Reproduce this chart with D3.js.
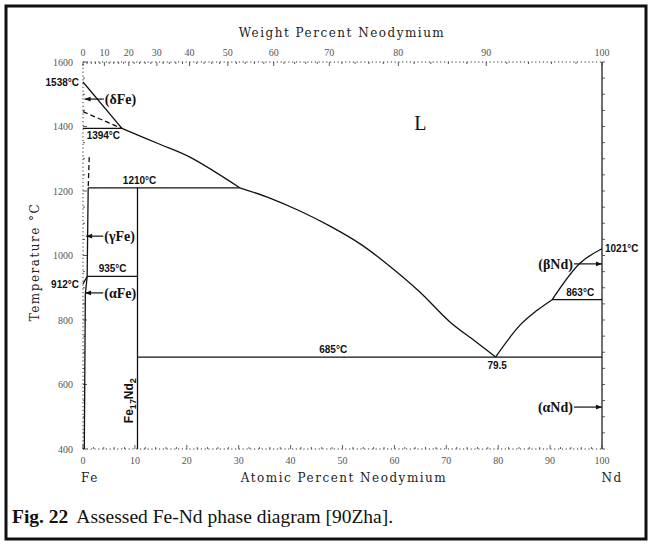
<!DOCTYPE html>
<html lang="en">
<head>
  <meta charset="UTF-8">
  <title>Fe-Nd phase diagram</title>
  <script src="https://cdn.jsdelivr.net/npm/d3@7"></script>
  <style>
    body { margin: 0; background: #fff; }
    svg { display: block; }
    .tick-label { font-family: "Liberation Serif", serif; font-size: 10px; fill: #555; }
    .axis-title { font-family: "DejaVu Serif", serif; font-size: 12px; fill: #222; letter-spacing: 1.5px; }
    .iso { font-family: "Liberation Sans", sans-serif; font-weight: bold; font-size: 10px; fill: #111; }
    .phase { font-family: "Liberation Serif", serif; font-weight: bold; font-size: 14px; fill: #111; }
    .line { fill: none; stroke: #111; stroke-width: 1.3; }
  </style>
</head>
<body>
<script>
  // atomic percent Nd / temperature in degC
  var atTicks = [0, 10, 20, 30, 40, 50, 60, 70, 80, 90, 100]
  var wtTicks = [0, 10, 20, 30, 40, 50, 60, 70, 80, 90, 100]
  var tTicks = [400, 600, 800, 1000, 1200, 1400, 1600]

  // phase boundaries
  var liqDelta = [[0, 1538], [7.5, 1394]]
  var liqGamma = [[7.5, 1394], [14.8, 1345], [20.6, 1305], [30.2, 1210]]
  var liqMain = [[30.2, 1210], [36.0, 1178], [41.8, 1138], [47.6, 1091], [53.4, 1036], [59.1, 967],
                 [64.9, 887], [70.7, 794], [75.5, 735], [79.5, 685]]
  var liqNdLow = [[79.5, 685], [84.2, 784], [87.5, 830], [90.4, 863]]
  var liqNdHigh = [[90.4, 863], [95.8, 977], [100, 1021]]
  var deltaSolidus = [[0, 1446], [7.5, 1394]]
  var gammaDashed = [[1.2, 1305], [1.0, 1210]]
  var feSolvus = [[1.0, 1210], [0.8, 935], [0.45, 880], [0.25, 400]]
  var alphaGamma = [[0, 912], [0.8, 935]]
  var compound = [[10.5, 400], [10.5, 1210]]
  var isotherms = [
    { t: 1394, x0: 0, x1: 7.5 },
    { t: 1210, x0: 1.0, x1: 30.2 },
    { t: 935, x0: 0.8, x1: 10.5 },
    { t: 685, x0: 10.5, x1: 100 },
    { t: 863, x0: 90.4, x1: 100 }
  ]
  var isoLabels = [
    { text: '1538°C', x: 0, t: 1538, dx: -4, dy: 4, anchor: 'end' },
    { text: '1394°C', x: 0.7, t: 1394, dx: 0, dy: 11, anchor: 'start' },
    { text: '1210°C', x: 10.9, t: 1210, dx: 0, dy: -4, anchor: 'middle' },
    { text: '935°C', x: 5.7, t: 935, dx: 0, dy: -4, anchor: 'middle' },
    { text: '912°C', x: 0, t: 912, dx: -4, dy: 4, anchor: 'end' },
    { text: '685°C', x: 48.2, t: 685, dx: 0, dy: -4, anchor: 'middle' },
    { text: '79.5', x: 79.8, t: 685, dx: 0, dy: 12, anchor: 'middle' },
    { text: '863°C', x: 95.8, t: 863, dx: 0, dy: -4, anchor: 'middle' },
    { text: '1021°C', x: 100, t: 1021, dx: 3, dy: 3, anchor: 'start' }
  ]
  // phase labels with arrows pointing at a boundary
  var phaseLabels = [
    { name: 'δFe', x: 4.2, t: 1485, to: 0.3, anchor: 'start' },
    { name: 'γFe', x: 4.1, t: 1060, to: 0.6, anchor: 'start' },
    { name: 'αFe', x: 4.1, t: 884, to: 0.4, anchor: 'start' },
    { name: 'βNd', x: 94.4, t: 974, to: 100, anchor: 'end' },
    { name: 'αNd', x: 94.4, t: 530, to: 100, anchor: 'end' }
  ]

  var W = 652, H = 546
  var x = d3.scaleLinear().domain([0, 100]).range([83, 602])
  var y = d3.scaleLinear().domain([400, 1600]).range([449, 62])

  // weight % Nd -> atomic % Nd
  function wtToAt(w) {
    var nd = w / 144.24, fe = (100 - w) / 55.845
    return nd + fe === 0 ? 0 : 100 * nd / (nd + fe)
  }

  var svg = d3.select('body').append('svg').attr('width', W).attr('height', H)

  svg.append('defs').append('marker')
    .attr('id', 'arr').attr('viewBox', '0 0 10 10').attr('refX', 10).attr('refY', 5)
    .attr('markerWidth', 6).attr('markerHeight', 5).attr('orient', 'auto-start-reverse')
    .append('path').attr('d', 'M0,1 L10,5 L0,9 z').attr('fill', '#111')

  // frame
  svg.append('rect').attr('x', 6).attr('y', 6).attr('width', 640).attr('height', 533)
    .attr('fill', 'none').attr('stroke', '#111').attr('stroke-width', 3)

  // axes lines
  var dotted = '1.2,2.6'
  svg.append('line').attr('x1', x(0)).attr('x2', x(100)).attr('y1', y(400)).attr('y2', y(400))
    .attr('stroke', '#333').attr('stroke-dasharray', dotted)
  svg.append('line').attr('x1', x(0)).attr('x2', x(100)).attr('y1', y(1600)).attr('y2', y(1600))
    .attr('stroke', '#333').attr('stroke-dasharray', dotted)
  svg.append('line').attr('x1', x(0)).attr('x2', x(0)).attr('y1', y(400)).attr('y2', y(1600))
    .attr('stroke', '#333').attr('stroke-dasharray', dotted)
  svg.append('line').attr('x1', x(100)).attr('x2', x(100)).attr('y1', y(400)).attr('y2', y(1600))
    .attr('stroke', '#111').attr('stroke-width', 1.2)

  // bottom ticks
  var g = svg.append('g')
  g.selectAll('.bmin').data(d3.range(0, 101, 2)).enter().append('line')
    .attr('x1', function (d) { return x(d) }).attr('x2', function (d) { return x(d) })
    .attr('y1', y(400)).attr('y2', function (d) { return y(400) - (d % 10 === 0 ? 4 : 2) })
    .attr('stroke', '#333').attr('stroke-width', 0.8)
  g.selectAll('.blab').data(atTicks).enter().append('text').attr('class', 'tick-label')
    .attr('x', function (d) { return x(d) }).attr('y', y(400) + 15)
    .attr('text-anchor', 'middle').text(function (d) { return d })

  // top ticks (weight percent)
  g.selectAll('.tmin').data(d3.range(0, 101, 2)).enter().append('line')
    .attr('x1', function (d) { return x(wtToAt(d)) }).attr('x2', function (d) { return x(wtToAt(d)) })
    .attr('y1', y(1600)).attr('y2', function (d) { return y(1600) + (d % 10 === 0 ? 4 : 2) })
    .attr('stroke', '#333').attr('stroke-width', 0.8)
  g.selectAll('.tlab').data(wtTicks).enter().append('text').attr('class', 'tick-label')
    .attr('x', function (d) { return x(wtToAt(d)) }).attr('y', y(1600) - 6)
    .attr('text-anchor', 'middle').text(function (d) { return d })

  // left ticks
  g.selectAll('.lmin').data(d3.range(400, 1601, 50)).enter().append('line')
    .attr('x1', x(0)).attr('x2', function (d) { return x(0) + (d % 200 === 0 ? 4 : 2) })
    .attr('y1', function (d) { return y(d) }).attr('y2', function (d) { return y(d) })
    .attr('stroke', '#333').attr('stroke-width', 0.8)
  g.selectAll('.llab').data(tTicks).enter().append('text').attr('class', 'tick-label')
    .attr('x', x(0) - 10).attr('y', function (d) { return y(d) + 3.5 })
    .attr('text-anchor', 'end').text(function (d) { return d })

  // right ticks
  g.selectAll('.rmin').data(d3.range(400, 1601, 50)).enter().append('line')
    .attr('x1', x(100)).attr('x2', x(100) + 3)
    .attr('y1', function (d) { return y(d) }).attr('y2', function (d) { return y(d) })
    .attr('stroke', '#333').attr('stroke-width', 0.8)

  // axis titles
  svg.append('text').attr('class', 'axis-title').attr('x', 342).attr('y', 37)
    .attr('text-anchor', 'middle').text('Weight Percent Neodymium')
  svg.append('text').attr('class', 'axis-title').attr('x', 344).attr('y', 482)
    .attr('text-anchor', 'middle').text('Atomic Percent Neodymium')
  svg.append('text').attr('class', 'axis-title').attr('x', 90).attr('y', 482)
    .attr('text-anchor', 'middle').text('Fe')
  svg.append('text').attr('class', 'axis-title').attr('x', 612).attr('y', 482)
    .attr('text-anchor', 'middle').text('Nd')
  svg.append('text').attr('class', 'axis-title')
    .attr('transform', 'translate(39,262) rotate(-90)')
    .attr('text-anchor', 'middle').text('Temperature °C')

  // phase boundaries
  var line = d3.line().x(function (d) { return x(d[0]) }).y(function (d) { return y(d[1]) })
  var smooth = d3.line().x(function (d) { return x(d[0]) }).y(function (d) { return y(d[1]) })
    .curve(d3.curveCatmullRom.alpha(0.5))
  var plot = svg.append('g')
  ;[liqDelta, alphaGamma, compound, feSolvus].forEach(function (p) {
    plot.append('path').attr('class', 'line').attr('d', line(p))
  })
  ;[liqGamma, liqMain, liqNdLow, liqNdHigh].forEach(function (p) {
    plot.append('path').attr('class', 'line').attr('d', smooth(p))
  })
  ;[deltaSolidus, gammaDashed].forEach(function (p) {
    plot.append('path').attr('class', 'line').attr('stroke-dasharray', '5,3').attr('d', line(p))
  })
  plot.selectAll('.iso-line').data(isotherms).enter().append('line').attr('class', 'line')
    .attr('x1', function (d) { return x(d.x0) }).attr('x2', function (d) { return x(d.x1) })
    .attr('y1', function (d) { return y(d.t) }).attr('y2', function (d) { return y(d.t) })

  // temperature labels
  svg.selectAll('.iso-lab').data(isoLabels).enter().append('text').attr('class', 'iso')
    .attr('x', function (d) { return x(d.x) + d.dx }).attr('y', function (d) { return y(d.t) + d.dy })
    .attr('text-anchor', function (d) { return d.anchor }).text(function (d) { return d.text })

  // phase labels with arrows
  phaseLabels.forEach(function (d) {
    var tx = svg.append('text').attr('class', 'phase')
      .attr('x', x(d.x)).attr('y', y(d.t) + 5).attr('text-anchor', d.anchor)
    tx.text('(' + d.name + ')')
    var x0 = d.anchor === 'start' ? x(d.x) - 1 : x(d.x) + 1
    svg.append('line').attr('x1', x0).attr('x2', x(d.to)).attr('y1', y(d.t)).attr('y2', y(d.t))
      .attr('stroke', '#111').attr('stroke-width', 1.2).attr('marker-end', 'url(#arr)')
  })

  svg.append('text').attr('x', x(65)).attr('y', y(1388)).attr('text-anchor', 'middle')
    .attr('font-family', 'Liberation Serif, serif').attr('font-size', 20).attr('fill', '#111').text('L')

  // compound label
  svg.append('text').attr('transform', 'translate(' + (x(10.5) - 4) + ',' + y(550) + ') rotate(-90)')
    .attr('text-anchor', 'middle').attr('font-family', 'Liberation Sans, sans-serif')
    .attr('font-weight', 'bold').attr('font-size', 12).attr('fill', '#111')
    .html('Fe<tspan font-size="9" dy="3">17</tspan><tspan dy="-3">Nd</tspan><tspan font-size="9" dy="3">2</tspan>')

  // caption
  var cap = svg.append('text').attr('x', 12).attr('y', 523)
    .attr('font-family', 'Liberation Serif, serif').attr('font-size', 19.5).attr('fill', '#111')
  cap.append('tspan').attr('font-weight', 'bold').text('Fig. 22')
  cap.append('tspan').attr('dx', 8).text('Assessed Fe-Nd phase diagram [90Zha].')
</script>
</body>
</html>
